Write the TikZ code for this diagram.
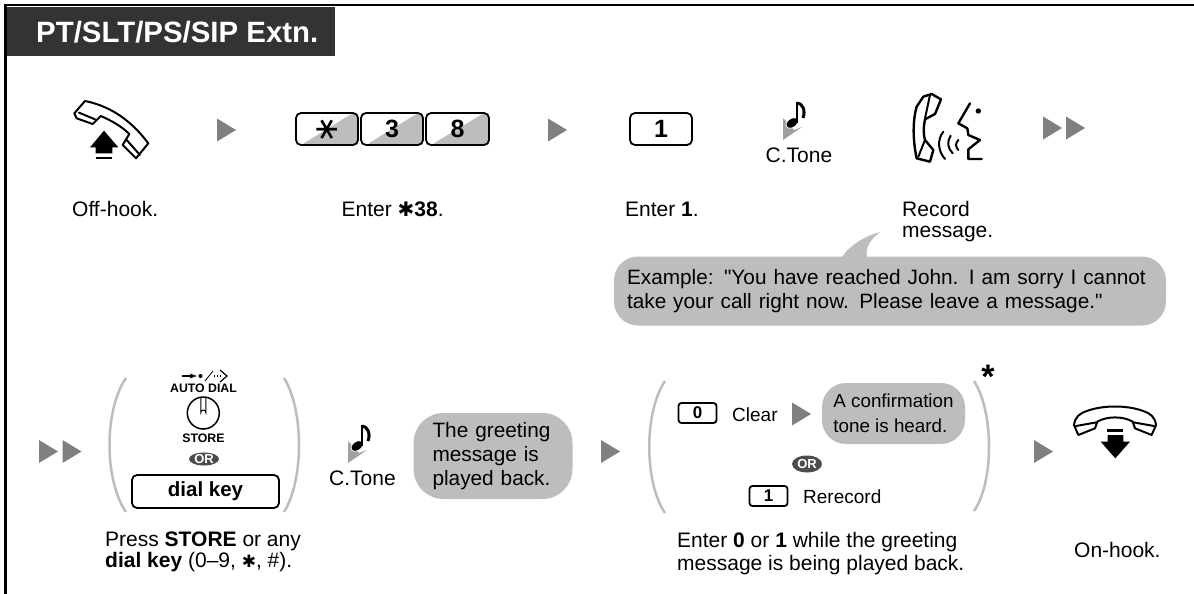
\documentclass[tikz,border=0pt]{standalone}
\usepackage{fontspec}
\setmainfont{Liberation Sans}
\newfontfamily\symfont{DejaVu Sans}
\newfontfamily\plainfont{Liberation Sans}
\usetikzlibrary{shapes.geometric}
\definecolor{markgray}{HTML}{808080}
\definecolor{bubblegray}{HTML}{BDBDBD}
\definecolor{headgray}{HTML}{333333}
\tikzset{
  txt/.style={anchor=base west, inner sep=0pt, align=left, font=\fontsize{21}{21}\selectfont},
  keycap/.style={draw, line width=1.8pt, rounded corners=5pt, inner sep=0pt, minimum width=#1, font=\bfseries\fontsize{25}{25}\selectfont},
  shaded key/.style={path picture={\fill[bubblegray] ([xshift=5pt]path picture bounding box.south west) -- (path picture bounding box.south east) -- (path picture bounding box.north east) -- ([xshift=-5pt]path picture bounding box.north east) -- cycle;}},
  smallkey/.style={draw, line width=1.8pt, rounded corners=3pt, inner sep=0pt, minimum width=38pt, minimum height=20pt, font=\bfseries\fontsize{17}{17}\selectfont},
  bubble/.style={fill=bubblegray, rounded corners=24pt, inner xsep=13pt, inner ysep=0pt, align=left, font=\fontsize{20.8}{23.5}\selectfont},
  orbadge/.style={ellipse, fill=black!70, text=white, inner sep=0pt, minimum width=30pt, minimum height=#1, font=\bfseries\fontsize{13}{13}\selectfont},
  paren/.style={draw=bubblegray, line width=2.5pt},
  phone/.style={line width=2pt, line join=round, line cap=round},
}
\newcommand{\stepmark}[2]{\fill[markgray] (#1,#2-11.5) -- ++(19,11.5) -- ++(-19,11.5) -- cycle;}
\newcommand{\tonemark}[2]{
  \begin{scope}[shift={(#1,#2)}]
    \fill[markgray!75] (0,0) -- (0,22) -- (19,9) -- (11,12) -- cycle;
    \filldraw[fill=black, draw=white, line width=0.8pt, rotate around={35:(9,5)}] (9,5) ellipse (6.5 and 4.5);
    \draw[line width=2pt] (14,5) -- (14,-16);
    \draw[line width=3pt] (14,-15) .. controls (19,-15) and (23,-8) .. (20,0);
  \end{scope}}
\newcommand{\dq}{{\plainfont"}}
\newcommand{\boldstar}[1]{{\symfont\fontsize{#1}{#1}\selectfont ✱}}
\begin{document}
\begin{tikzpicture}[x=1pt,y=-1pt]
  \useasboundingbox (0,0) rectangle (1194,594);

  % Marco y titulo
  \draw[line width=2.5pt] (5.5,594) -- (5.5,5) -- (1194,5);
  \fill[headgray] (7,7) rectangle (335,56);
  \node[anchor=base west, inner sep=0pt, text=white, font=\bfseries\fontsize{29.4}{29.4}\selectfont] (title) at (36,43) {PT/SLT/PS/SIP Extn.};

  % Descolgar
  \begin{scope}[shift={(30,90)},scale=1/3]
    \draw[phone] (133,70) -- (165,33) .. controls (250,50) and (310,100) .. (355,160) -- (318,205) -- (278,165) -- (298,132) .. controls (270,105) and (240,90) .. (212,78) -- (188,102) -- (140,85) -- cycle;
    \draw[phone] (147,68) -- (195,88);
    \draw[phone] (290,150) -- (330,195);
    \fill (222,122) -- (265,172) -- (247,172) -- (247,190) -- (197,190) -- (197,172) -- (180,172) -- cycle;
    \fill (197,200) rectangle (247,208);
  \end{scope}
  \stepmark{217}{130}

  % Teclas
  \node[keycap=62pt, shaded key, minimum height=32pt] (star) at (327,129) {};
  \node[rotate=90, inner sep=0pt, font=\symfont\fontsize{33}{33}\selectfont] (starsign) at (327,130) {∗};
  \node[keycap=62pt, shaded key, minimum height=32pt] (three) at (392,129) {3};
  \node[keycap=63pt, shaded key, minimum height=32pt] (eight) at (457.5,129) {8};
  \stepmark{548}{130}
  \node[keycap=62pt, minimum height=32pt] (one) at (661,129) {1};

  % Tono
  \tonemark{783}{118}
  \node[txt] (tone) at (765.5,162) {C.Tone};

  % Grabar
  \begin{scope}[shift={(880,90)},scale=1/3]
    \draw[phone, line width=2.4pt] (130,20) -- (155,12) -- (183,28) -- (165,72) -- (135,88) .. controls (130,110) and (130,135) .. (135,150) -- (160,180) -- (150,215) -- (110,205) .. controls (98,150) and (98,90) .. (110,50) -- cycle;
    \draw[phone] (150,15) -- (135,85);
    \draw[phone] (135,150) -- (115,200);
    \draw[phone] (190,125) .. controls (170,150) and (175,185) .. (195,207);
    \draw[phone] (212,137) .. controls (200,155) and (203,175) .. (218,190);
    \draw[phone] (235,150) .. controls (226,160) and (226,170) .. (235,180);
    \draw[phone, line width=2.4pt] (270,40) -- (235,100) -- (262,115) -- (265,135) -- (300,150) -- (265,178) -- (265,207) -- (305,207);
    \fill (295,63) circle (8);
  \end{scope}
  \stepmark{1043}{128}
  \stepmark{1066}{128}

  % Textos de la primera fila
  \node[txt] (offhook) at (72,216.5) {Off-hook.};
  \node[txt] (enterstar) at (341.5,216.5) {Enter \boldstar{20}\textbf{38}.};
  \node[txt] (enterone) at (625,216.5) {Enter \textbf{1}.};
  \node[txt] (record) at (902,237) {Record\\message.};

  % Ejemplo
  \fill[bubblegray] (842,257) .. controls (850,245) and (865,236) .. (880,232) .. controls (870,240) and (865,248) .. (867,257) -- cycle;
  \node[bubble, text width=526pt, minimum height=69pt] (example) at (890,291) {Example: \dq You have reached John. I am sorry I cannot\\take your call right now. Please leave a message.\dq};

  % Segunda fila
  \stepmark{39}{451.5}
  \stepmark{62.5}{451.5}
  \draw[paren] (126,378) .. controls (104,410) and (104,480) .. (126,512);
  \draw[paren] (284,378) .. controls (304,410) and (304,480) .. (284,512);

  % Boton STORE
  \draw[line width=1.3pt, -{latex}] (182,376) -- (197,376);
  \fill (200.5,376) circle (2);
  \draw[line width=0.8pt] (205,381) -- (213,371);
  \draw[line width=1.2pt, dotted] (214,376) -- (221,376);
  \draw[line width=1.2pt] (220,370) -- (227,376) -- (220,382);
  \node[anchor=base, inner sep=0pt, font=\bfseries\fontsize{12.3}{12.3}\selectfont] (autodial) at (203.5,392.7) {AUTO DIAL};
  \draw[line width=1.5pt] (203.3,413) circle (16);
  \draw[line width=1pt] (200.8,398) -- (200.8,412.5) arc[start angle=180, end angle=360, radius=2.5] -- (205.8,398);
  \node[anchor=base, inner sep=0pt, font=\bfseries\fontsize{12.3}{12.3}\selectfont] (store) at (203.5,442) {STORE};
  \node[orbadge=12pt] (ortop) at (204,459) {OR};
  \node[keycap=147pt, minimum height=33pt, font=\bfseries\fontsize{20.5}{20.5}\selectfont] (dialkey) at (205.5,491.5) {dial key};
  \node[txt] (press) at (105,567.5) {Press \textbf{STORE} or any\\\textbf{dial key} (0–9, \boldstar{17}, \#).};

  % Tono y mensaje
  \tonemark{348}{441}
  \node[txt] (tonetwo) at (329,485) {C.Tone};
  \node[bubble, rounded corners=30pt, inner xsep=19pt, text width=121pt, minimum height=86pt, font=\fontsize{20.8}{24}\selectfont] (greeting) at (493,456) {The greeting\\message is\\played back.};
  \stepmark{601}{451.5}

  % Opciones
  \draw[paren] (665,381) .. controls (644,412) and (644,482) .. (665,513);
  \draw[paren] (974,381) .. controls (994,412) and (994,482) .. (974,511);
  \node[smallkey] (zero) at (697.5,413) {0};
  \node[txt, font=\fontsize{19}{19}\selectfont] (clear) at (732,421) {Clear};
  \stepmark{792}{414}
  \node[bubble, inner xsep=0pt, minimum width=143pt, minimum height=61pt, font=\fontsize{18.8}{25}\selectfont] (confirm) at (893.5,413.5) {A confirmation\\tone is heard.};
  \node[orbadge=17pt] (orbottom) at (807,464) {OR};
  \node[smallkey] (rerec) at (768.5,496) {1};
  \node[txt, font=\fontsize{19}{19}\selectfont] (rerecord) at (803,503) {Rerecord};
  \node[anchor=base, inner sep=0pt, font=\bfseries\fontsize{34}{34}\selectfont] (repeatmark) at (988,388) {*};
  \node[txt] (enterzero) at (677,570) {Enter \textbf{0} or \textbf{1} while the greeting\\[2pt]message is being played back.};
  \stepmark{1034}{451.5}

  % Colgar
  \begin{scope}[shift={(1060,400)},scale=1/3]
    \draw[phone] (42,75) .. controls (45,50) and (60,40) .. (80,33) .. controls (130,15) and (200,15) .. (250,33) .. controls (270,40) and (285,50) .. (288,75) -- (275,105) -- (225,85) -- (218,65) .. controls (190,48) and (140,48) .. (112,65) -- (105,85) -- (55,105) -- cycle;
    \draw[phone] (48,78) -- (110,67);
    \draw[phone] (220,67) -- (282,78);
    \fill (142,88) rectangle (190,96);
    \fill (143,105) -- (190,105) -- (190,125) -- (210,125) -- (166,175) -- (122,125) -- (143,125) -- cycle;
  \end{scope}
  \node[txt] (onhook) at (1074,557) {On-hook.};
\end{tikzpicture}
\end{document}
